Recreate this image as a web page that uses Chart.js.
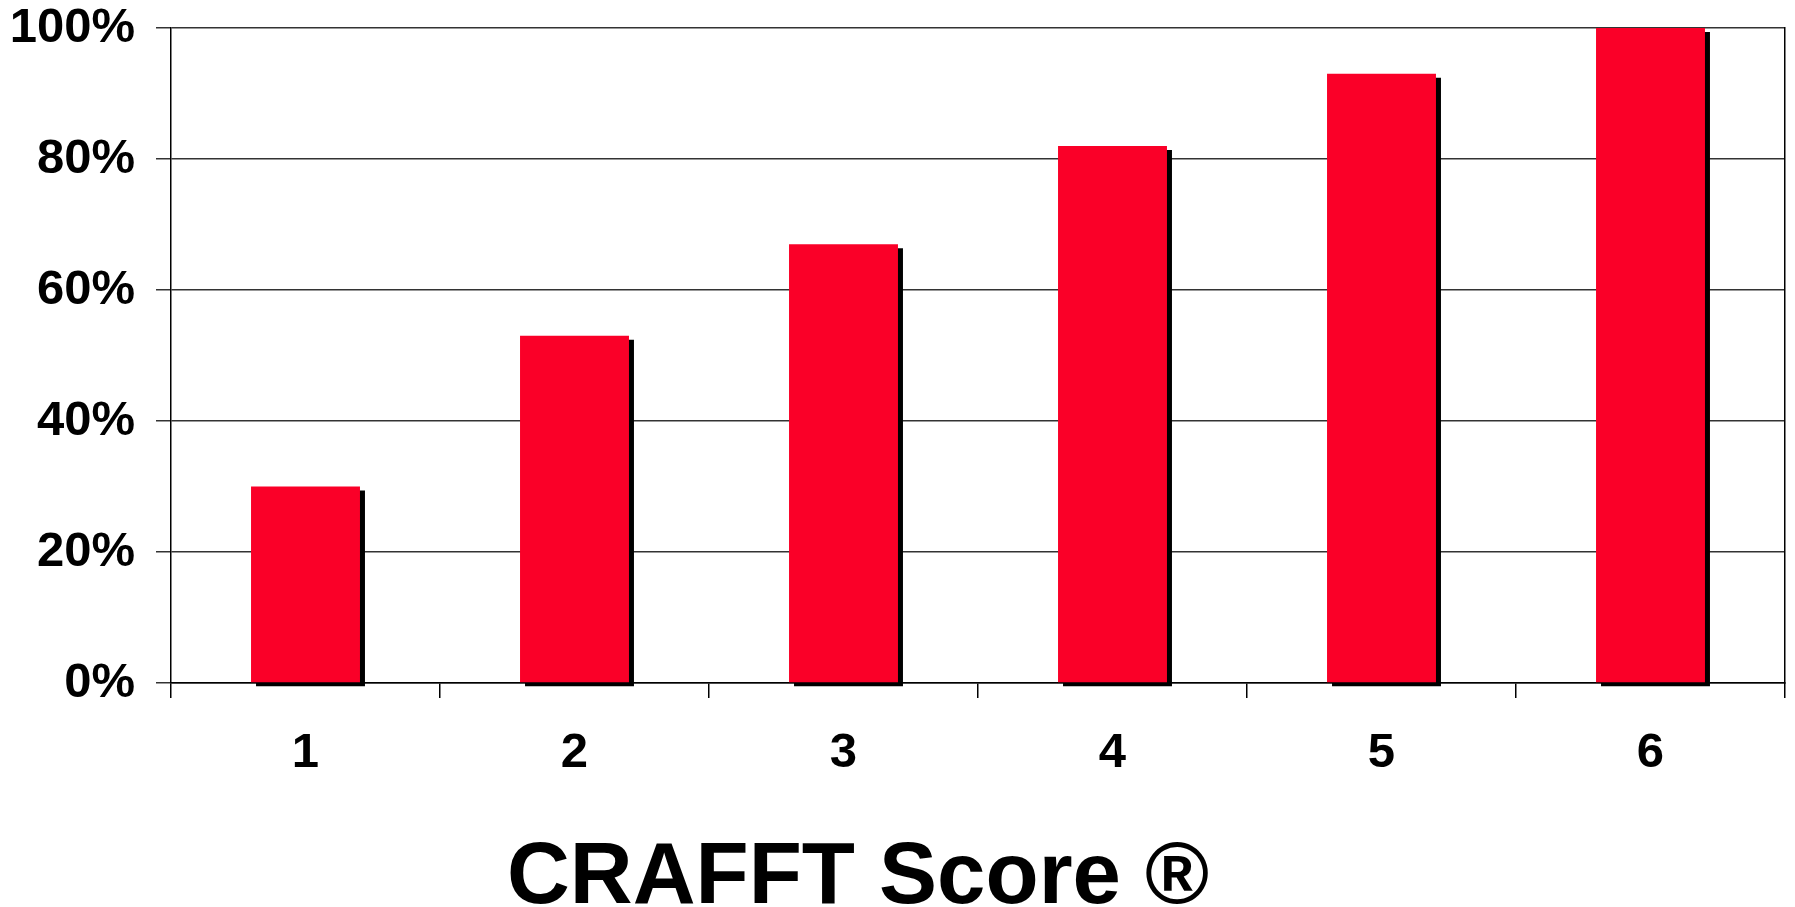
<!DOCTYPE html>
<html>
<head>
<meta charset="utf-8">
<script src="https://cdn.jsdelivr.net/npm/chart.js@4.4.1/dist/chart.umd.min.js"></script>
<style>
  html, body { margin: 0; padding: 0; background: #fff; }
  #wrap { width: 1795px; height: 907px; position: relative; }
</style>
</head>
<body>
<div id="wrap"><canvas id="chart-crafft"></canvas></div>
<script>
// Dados do gráfico
const scoreLabels = ['1', '2', '3', '4', '5', '6'];
const percentValues = [30, 53, 67, 82, 93, 100];
const yTickValues = [0, 20, 40, 60, 80, 100];
const axisTitle = 'CRAFFT Score ®';

const FONT = "'Liberation Sans', Arial, sans-serif";

// Sombra preta atrás das barras
const barShadowPlugin = {
    id: 'barShadow',
    beforeDatasetsDraw(chart) {
        const ctx = chart.ctx;
        ctx.save();
        ctx.shadowColor = '#000';
        ctx.shadowOffsetX = 5;
        ctx.shadowOffsetY = 4;
        ctx.shadowBlur = 0;
    },
    afterDatasetsDraw(chart) {
        chart.ctx.restore();
    }
};

// Título do eixo X (fica um pouco à esquerda do centro)
const xTitlePlugin = {
    id: 'xTitle',
    afterDraw(chart, args, opts) {
        const ctx = chart.ctx;
        const area = chart.chartArea;
        ctx.save();
        ctx.font = 'bold 87px ' + FONT;
        ctx.fillStyle = '#000';
        ctx.textAlign = 'center';
        ctx.textBaseline = 'alphabetic';
        ctx.fillText(opts.text, area.left + area.width * 0.4257, area.bottom + 220);
        ctx.restore();
    }
};

function createCrafftChart() {
    const ctx = document.getElementById('chart-crafft');
    window.crafftChart = new Chart(ctx, {
        type: 'bar',
        data: {
            labels: scoreLabels,
            datasets: [{
                data: percentValues,
                backgroundColor: '#FA0028',
                borderWidth: 0,
                categoryPercentage: 1,
                barPercentage: 0.405,
                clip: false
            }]
        },
        options: {
            responsive: true,
            maintainAspectRatio: false,
            animation: false,
            layout: { padding: { left: 0, right: 10, top: 0, bottom: 0 } },
            plugins: {
                legend: { display: false },
                tooltip: { enabled: false },
                xTitle: { text: axisTitle }
            },
            scales: {
                x: {
                    grid: {
                        offset: true,
                        drawOnChartArea: false,
                        tickLength: 15,
                        color: '#000',
                        lineWidth: 1.5
                    },
                    border: { color: '#000', width: 1.5 },
                    ticks: {
                        color: '#000',
                        padding: 26,
                        font: { family: FONT, size: 49, weight: 'bold' }
                    },
                    afterFit(scale) { scale.height = 224; }
                },
                y: {
                    min: 0,
                    max: 100,
                    afterBuildTicks(scale) {
                        scale.ticks = yTickValues.map(v => ({ value: v }));
                    },
                    grid: {
                        color: '#333',
                        lineWidth: 1.5,
                        tickLength: 15
                    },
                    border: { color: '#000', width: 1.5 },
                    ticks: {
                        color: '#000',
                        padding: 21,
                        font: { family: FONT, size: 49, weight: 'bold' },
                        callback: function(value) { return value + '%'; }
                    },
                    afterFit(scale) {
                        scale.width = 171;
                        scale.paddingTop = 28;
                        scale.paddingBottom = 0;
                    }
                },
                y2: {
                    position: 'right',
                    min: 0,
                    max: 100,
                    grid: { drawOnChartArea: false, drawTicks: false },
                    border: { color: '#000', width: 1.5 },
                    ticks: { display: false },
                    afterFit(scale) {
                        scale.paddingTop = 0;
                        scale.paddingBottom = 0;
                    }
                }
            }
        },
        plugins: [barShadowPlugin, xTitlePlugin]
    });
}

createCrafftChart();
</script>
</body>
</html>
